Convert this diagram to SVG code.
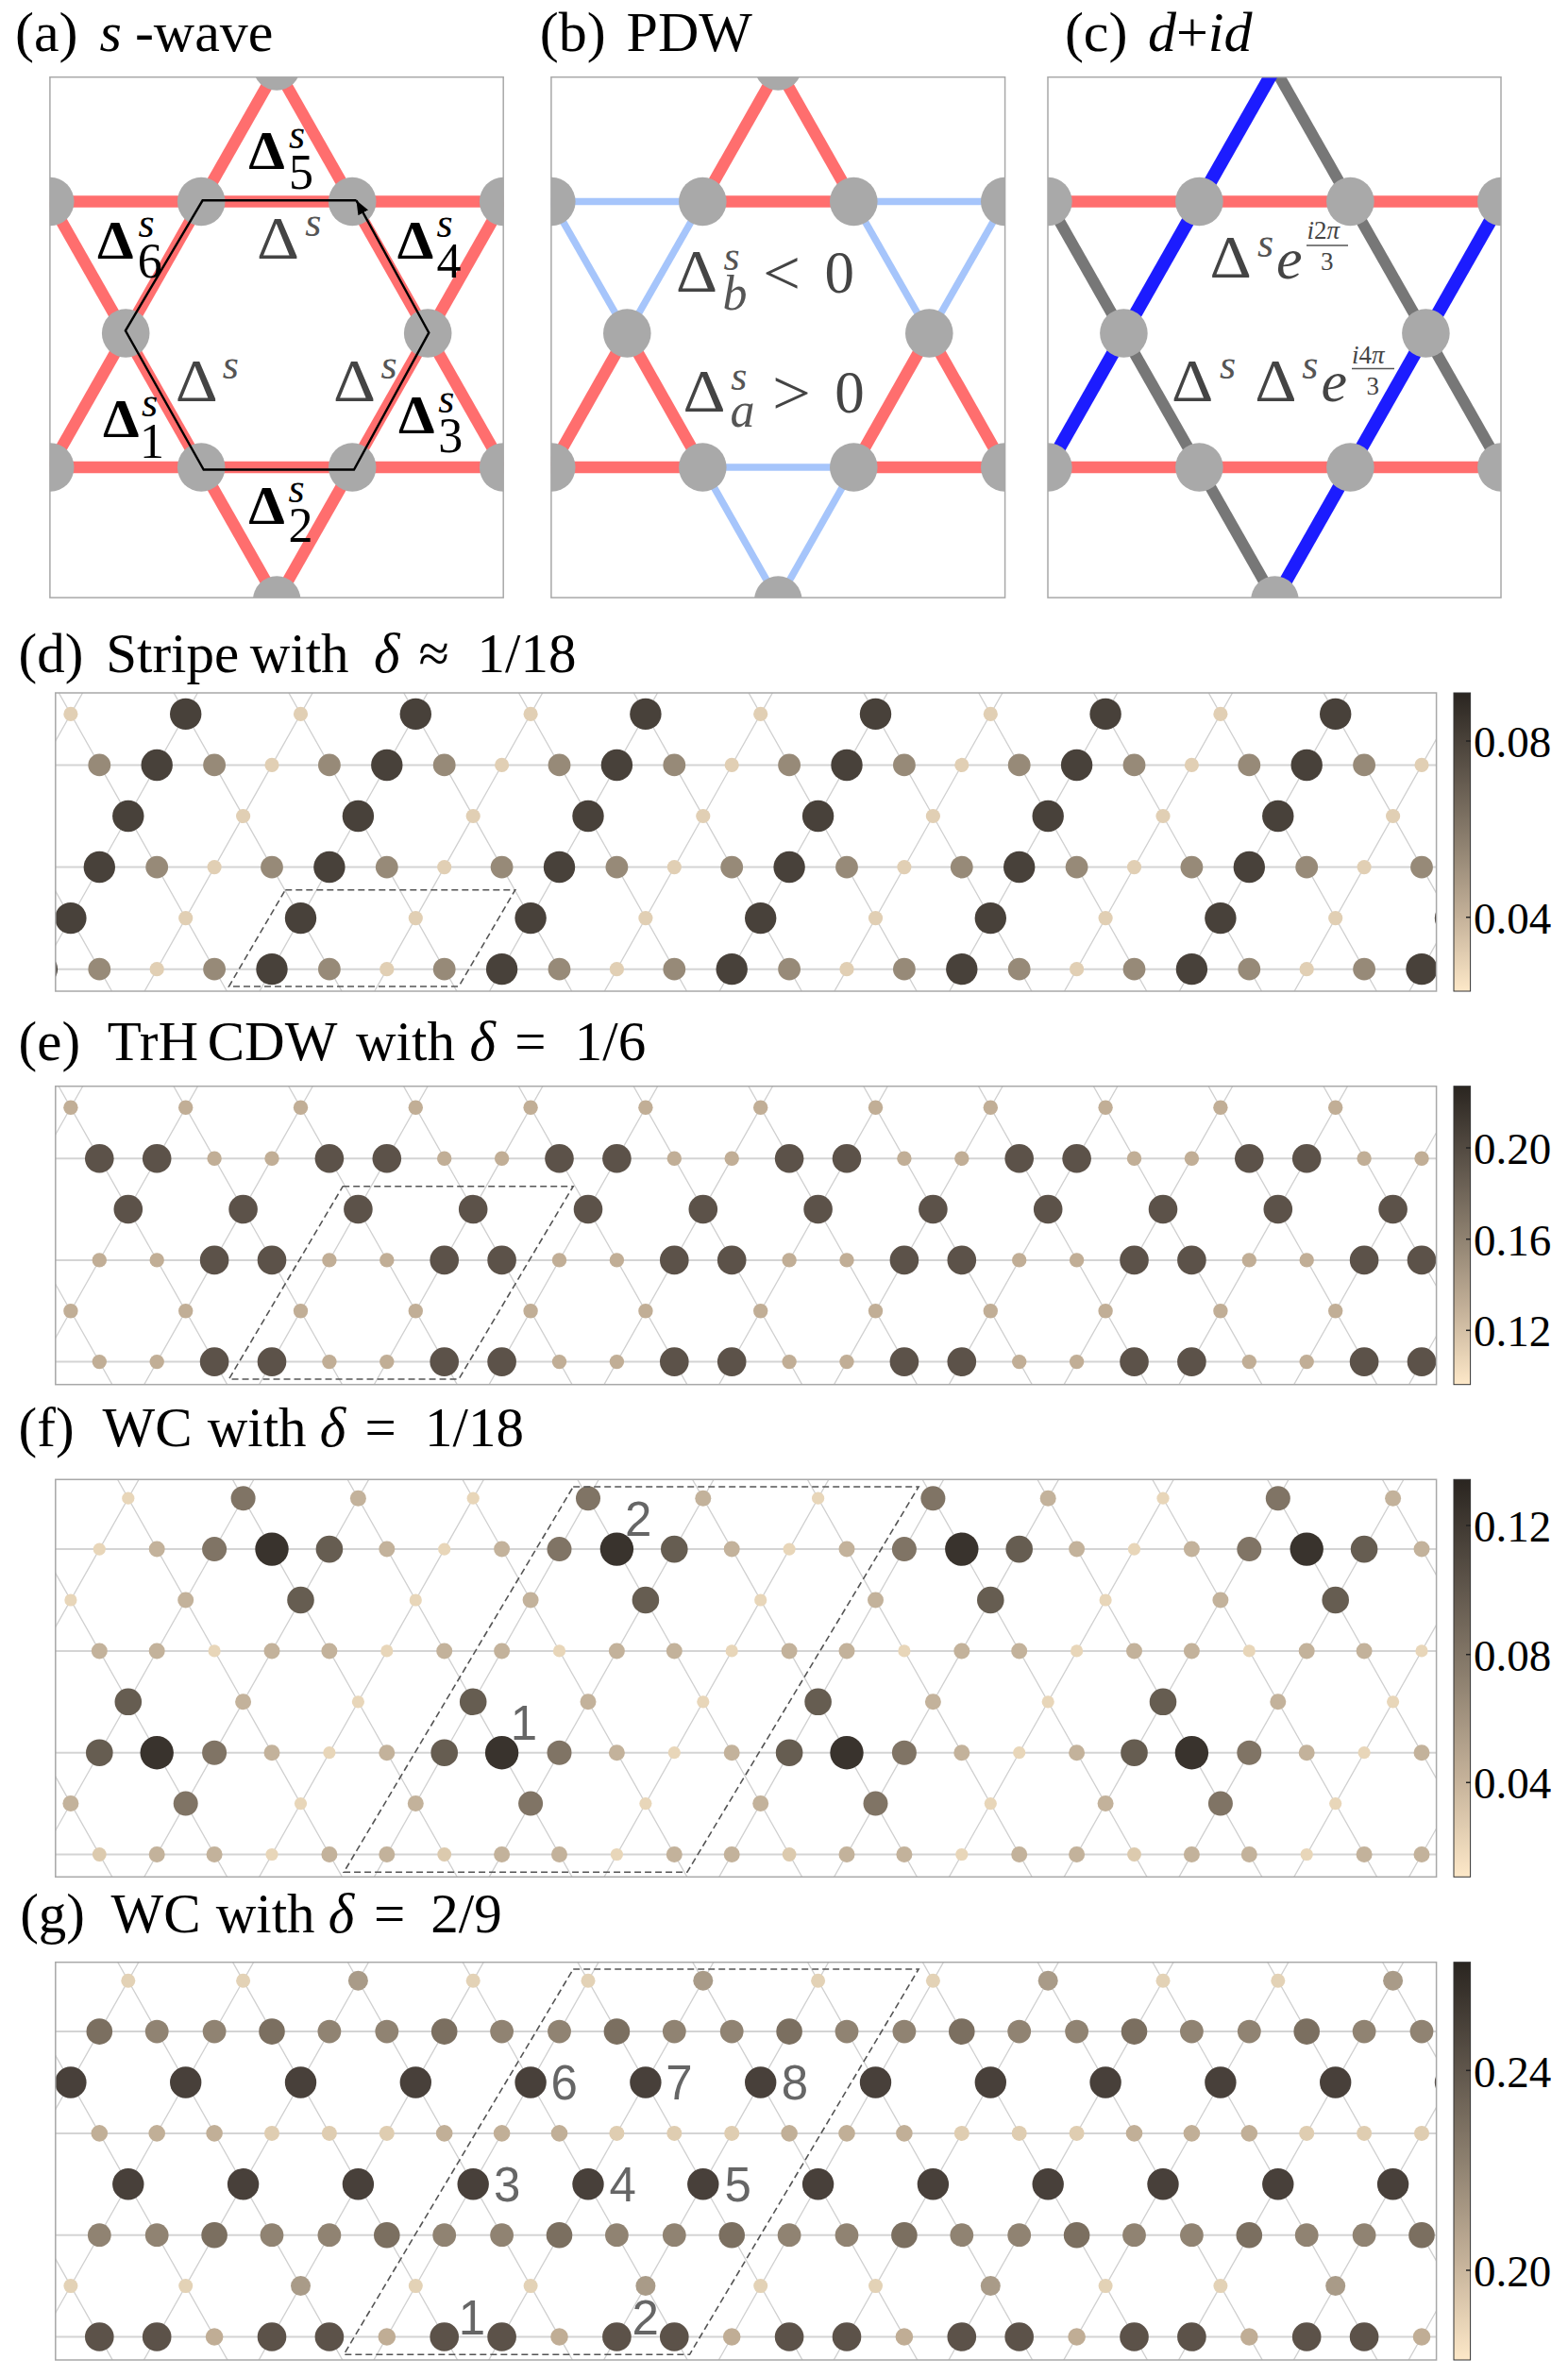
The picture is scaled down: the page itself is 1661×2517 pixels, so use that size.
<svg xmlns="http://www.w3.org/2000/svg" width="1661" height="2517" viewBox="0 0 1661 2517">
<style>
text{font-family:"Liberation Serif","Times New Roman",serif}
.ttl{font-size:59px;fill:#000}
.tt2{font-size:60px;fill:#000}
.it{font-style:italic}
.lab{font-family:"Liberation Sans",Arial,sans-serif;font-size:51px;fill:#666;text-anchor:middle}
.cb{font-size:47px;fill:#000}
.hl{stroke:#d4d4d4;stroke-width:2}
.dl{stroke:#d0d0d0;stroke-width:1.3;fill:none}
.fr{fill:none;stroke:#a8a8a8;stroke-width:1.5}
.uc{fill:none;stroke:#555;stroke-width:1.6;stroke-dasharray:7 4}
.st{fill:#a9a9a9}
.red{stroke:#ff6e6e;stroke-width:12.5}
.lb{stroke:#a6c5fb;stroke-width:7.5}
.bl{stroke:#1c1cff;stroke-width:14}
.gy{stroke:#777;stroke-width:12}
.bD{font-size:56px;font-weight:bold;fill:#000}
.sup{font-size:44px;font-style:italic;fill:#000}
.sub{font-size:52px;fill:#000}
.tgD{font-size:64px;fill:#444}
.tgs{font-size:44px;font-style:italic;fill:#555}
.tg{fill:#444}
.cbar{fill:url(#cmap);stroke:#333;stroke-width:1}
.tick{stroke:#222;stroke-width:1.5}
.d1{fill:#48413a;r:16.7px}.d2{fill:#978a78;r:11.9px}.d3{fill:#e1cfb4;r:7.6px}
.e1{fill:#5c5249;r:15.3px}.e2{fill:#c1ae96;r:7.7px}
.fV{fill:#39332d;r:17.7px}.fD{fill:#665d51;r:14.3px}.fM{fill:#807465;r:13px}.fP{fill:#c3b29b;r:8.5px}.fL{fill:#e8d6b9;r:6.6px}.fQ{fill:#dccaae;r:7.4px}
.gD{fill:#48403a;r:16.7px}.gG{fill:#7b6f60;r:13.8px}.gH{fill:#908372;r:12.4px}.gN{fill:#a99b88;r:10.5px}.gL{fill:#e3d2b6;r:7.5px}.gP{fill:#c1af97;r:8.8px}.gQ{fill:#dfcdb1;r:8px}.gK{fill:#5c5249;r:15.3px}.gJ{fill:#c0ad95;r:9.3px}
</style>
<defs>
<linearGradient id="cmap" x1="0" y1="0" x2="0" y2="1">
<stop offset="0" stop-color="#2a2520"/><stop offset="0.25" stop-color="#5b5248"/><stop offset="0.5" stop-color="#8d806f"/><stop offset="0.75" stop-color="#c4b199"/><stop offset="1" stop-color="#fde8c8"/>
</linearGradient>
<marker id="arr" viewBox="0 0 10 10" refX="10" refY="5" markerWidth="15" markerHeight="15" markerUnits="userSpaceOnUse" orient="auto"><path d="M0 1 L10 5 L0 9 Z" fill="#000"/></marker>
<clipPath id="ca"><rect x="52.9" y="81.7" width="480.3" height="551.4"/></clipPath>
<clipPath id="cbp"><rect x="583.9" y="81.7" width="480.7" height="551.4"/></clipPath>
<clipPath id="cc"><rect x="1110" y="81.7" width="480" height="551.4"/></clipPath>
<clipPath id="cd"><rect x="58.8" y="734" width="1462.8" height="316"/></clipPath>
<clipPath id="ce"><rect x="58.8" y="1150.7" width="1462.8" height="316"/></clipPath>
<clipPath id="cf"><rect x="58.8" y="1567.3" width="1462.8" height="421"/></clipPath>
<clipPath id="cg"><rect x="58.8" y="2078.7" width="1462.8" height="421.3"/></clipPath>
</defs>
<rect width="1661" height="2517" fill="#fff"/>

<!-- Panel a -->
<g id="panel-a">
<text class="tt2" x="16" y="54">(a)<tspan x="105.4" class="it">s</tspan><tspan x="142.9">-wave</tspan></text>
<g clip-path="url(#ca)">
<g id="bonds-a">
<line class="red" x1="40" y1="213.5" x2="545" y2="213.5"/>
<line class="red" x1="40" y1="495" x2="545" y2="495"/>
<line class="red" x1="293.2" y1="72.5" x2="53.2" y2="495"/>
<line class="red" x1="293.2" y1="72.5" x2="533.2" y2="495"/>
<line class="red" x1="53.2" y1="213.5" x2="293.2" y2="636"/>
<line class="red" x1="533.2" y1="213.5" x2="293.2" y2="636"/>
</g>
<g id="sites-a">
<ellipse class="st" cx="53.2" cy="213.5" rx="25.3" ry="25.8"/><ellipse class="st" cx="213.2" cy="213.5" rx="25.3" ry="25.8"/><ellipse class="st" cx="373.2" cy="213.5" rx="25.3" ry="25.8"/><ellipse class="st" cx="533.2" cy="213.5" rx="25.3" ry="25.8"/>
<ellipse class="st" cx="133.2" cy="353" rx="25.3" ry="25.8"/><ellipse class="st" cx="453.2" cy="353" rx="25.3" ry="25.8"/>
<ellipse class="st" cx="53.2" cy="495" rx="25.3" ry="25.8"/><ellipse class="st" cx="213.2" cy="495" rx="25.3" ry="25.8"/><ellipse class="st" cx="373.2" cy="495" rx="25.3" ry="25.8"/><ellipse class="st" cx="533.2" cy="495" rx="25.3" ry="25.8"/>
<ellipse class="st" cx="293.2" cy="70" rx="25.3" ry="25.8"/><ellipse class="st" cx="293.2" cy="636" rx="25.3" ry="25.8"/>
</g>
</g>
<path d="M377.5 212.3 L214.6 212.3 L132.9 350.3 L215.7 497.5 L375 497.5 L454.3 352.4 L377.5 212.3" fill="none" stroke="#000" stroke-width="2.4" marker-end="url(#arr)"/>
<rect class="fr" x="52.9" y="81.7" width="480.3" height="551.4"/>
<g id="labels-a">
<text class="bD" x="263.2" y="179.1" textLength="38.6" lengthAdjust="spacingAndGlyphs">Δ</text><text class="sup" x="306" y="156.7">s</text><text class="sub" x="306" y="199.8">5</text>
<text class="bD" x="102.9" y="273.6" textLength="38.6" lengthAdjust="spacingAndGlyphs">Δ</text><text class="sup" x="146.4" y="250.8">s</text><text class="sub" x="145.7" y="293.5">6</text>
<text class="bD" x="420.7" y="273.6" textLength="38.6" lengthAdjust="spacingAndGlyphs">Δ</text><text class="sup" x="462.5" y="250.8">s</text><text class="sub" x="462.5" y="293.5">4</text>
<text class="bD" x="108.9" y="463.1" textLength="38.6" lengthAdjust="spacingAndGlyphs">Δ</text><text class="sup" x="150" y="440.7">s</text><text class="sub" x="148" y="485.1">1</text>
<text class="bD" x="422.1" y="459.4" textLength="38.6" lengthAdjust="spacingAndGlyphs">Δ</text><text class="sup" x="464.3" y="437.4">s</text><text class="sub" x="464.3" y="478.9">3</text>
<text class="bD" x="263.2" y="554.7" textLength="38.6" lengthAdjust="spacingAndGlyphs">Δ</text><text class="sup" x="305.4" y="531.9">s</text><text class="sub" x="305.4" y="574.2">2</text>
<text class="tgD" x="272.1" y="273.6" textLength="45" lengthAdjust="spacingAndGlyphs">Δ</text><text class="tgs" x="323.2" y="250">s</text>
<text class="tgD" x="185.7" y="425" textLength="45" lengthAdjust="spacingAndGlyphs">Δ</text><text class="tgs" x="235.7" y="401.3">s</text>
<text class="tgD" x="352.9" y="425" textLength="45" lengthAdjust="spacingAndGlyphs">Δ</text><text class="tgs" x="403.6" y="401.3">s</text>
</g>
</g>

<!-- Panel b -->
<g id="panel-b">
<text class="tt2" x="571.8" y="54">(b)<tspan x="663.6">PDW</tspan></text>
<g clip-path="url(#cbp)">
<g id="bonds-b">
<line class="lb" x1="570" y1="213.5" x2="744.3" y2="213.5"/><line class="lb" x1="584.3" y1="213.5" x2="664.3" y2="353.5"/><line class="lb" x1="744.3" y1="213.5" x2="664.3" y2="353.5"/>
<line class="lb" x1="904.3" y1="213.5" x2="1080" y2="213.5"/><line class="lb" x1="904.3" y1="213.5" x2="984.3" y2="353.5"/><line class="lb" x1="1064.3" y1="213.5" x2="984.3" y2="353.5"/>
<line class="lb" x1="744.3" y1="495" x2="904.3" y2="495"/><line class="lb" x1="744.3" y1="495" x2="824.3" y2="636"/><line class="lb" x1="904.3" y1="495" x2="824.3" y2="636"/>
<line class="red" x1="824.3" y1="72.5" x2="744.3" y2="213.5"/><line class="red" x1="824.3" y1="72.5" x2="904.3" y2="213.5"/><line class="red" x1="744.3" y1="213.5" x2="904.3" y2="213.5"/>
<line class="red" x1="664.3" y1="353.5" x2="584.3" y2="495"/><line class="red" x1="664.3" y1="353.5" x2="744.3" y2="495"/><line class="red" x1="570" y1="495" x2="744.3" y2="495"/>
<line class="red" x1="984.3" y1="353.5" x2="904.3" y2="495"/><line class="red" x1="984.3" y1="353.5" x2="1064.3" y2="495"/><line class="red" x1="904.3" y1="495" x2="1080" y2="495"/>
</g>
<g id="sites-b">
<ellipse class="st" cx="584.3" cy="213.5" rx="25.3" ry="25.8"/><ellipse class="st" cx="744.3" cy="213.5" rx="25.3" ry="25.8"/><ellipse class="st" cx="904.3" cy="213.5" rx="25.3" ry="25.8"/><ellipse class="st" cx="1064.3" cy="213.5" rx="25.3" ry="25.8"/>
<ellipse class="st" cx="664.3" cy="353" rx="25.3" ry="25.8"/><ellipse class="st" cx="984.3" cy="353" rx="25.3" ry="25.8"/>
<ellipse class="st" cx="584.3" cy="495" rx="25.3" ry="25.8"/><ellipse class="st" cx="744.3" cy="495" rx="25.3" ry="25.8"/><ellipse class="st" cx="904.3" cy="495" rx="25.3" ry="25.8"/><ellipse class="st" cx="1064.3" cy="495" rx="25.3" ry="25.8"/>
<ellipse class="st" cx="824.3" cy="70" rx="25.3" ry="25.8"/><ellipse class="st" cx="824.3" cy="636" rx="25.3" ry="25.8"/>
</g>
</g>
<rect class="fr" x="583.9" y="81.7" width="480.7" height="551.4"/>
<g id="labels-b">
<text class="tgD" x="716.1" y="308.9" textLength="44" lengthAdjust="spacingAndGlyphs">Δ</text><text class="tgs" x="766.4" y="286.1">s</text><text class="tgs" x="765.4" y="327.5" style="font-size:52px">b</text>
<text class="tg" x="808" y="312" style="font-size:68px" textLength="40" lengthAdjust="spacingAndGlyphs">&lt;</text><text class="tg" x="873.5" y="310.1" style="font-size:63px">0</text>
<text class="tgD" x="723.6" y="436.2" textLength="45" lengthAdjust="spacingAndGlyphs">Δ</text><text class="tgs" x="774.3" y="412.5">s</text><text class="tgs" x="773.6" y="451.9" style="font-size:52px">a</text>
<text class="tg" x="818" y="438.5" style="font-size:68px" textLength="41" lengthAdjust="spacingAndGlyphs">&gt;</text><text class="tg" x="884.2" y="437.4" style="font-size:63px">0</text>
</g>
</g>

<!-- Panel c -->
<g id="panel-c">
<text class="tt2" x="1127.9" y="54">(c)<tspan x="1216" class="it">d</tspan><tspan>+</tspan><tspan class="it">id</tspan></text>
<g clip-path="url(#cc)">
<g id="bonds-c">
<line class="red" x1="1100" y1="213.5" x2="1600" y2="213.5"/>
<line class="red" x1="1100" y1="495" x2="1600" y2="495"/>
<line class="gy" x1="1350.4" y1="72.5" x2="1600" y2="512"/>
<line class="gy" x1="1110.4" y1="213.5" x2="1350.4" y2="636"/>
<line class="bl" x1="1350.4" y1="72.5" x2="1110.4" y2="495"/>
<line class="bl" x1="1590.4" y1="213.5" x2="1350.4" y2="636"/>
</g>
<g id="sites-c">
<ellipse class="st" cx="1110.4" cy="213.5" rx="25.3" ry="25.8"/><ellipse class="st" cx="1270.4" cy="213.5" rx="25.3" ry="25.8"/><ellipse class="st" cx="1430.4" cy="213.5" rx="25.3" ry="25.8"/><ellipse class="st" cx="1590.4" cy="213.5" rx="25.3" ry="25.8"/>
<ellipse class="st" cx="1190.4" cy="353" rx="25.3" ry="25.8"/><ellipse class="st" cx="1510.4" cy="353" rx="25.3" ry="25.8"/>
<ellipse class="st" cx="1110.4" cy="495" rx="25.3" ry="25.8"/><ellipse class="st" cx="1270.4" cy="495" rx="25.3" ry="25.8"/><ellipse class="st" cx="1430.4" cy="495" rx="25.3" ry="25.8"/><ellipse class="st" cx="1590.4" cy="495" rx="25.3" ry="25.8"/>
<ellipse class="st" cx="1350.4" cy="636" rx="25.3" ry="25.8"/>
</g>
</g>
<rect class="fr" x="1110" y="81.7" width="480" height="551.4"/>
<g id="labels-c">
<text class="tgD" x="1281.4" y="294.4" textLength="44.3" lengthAdjust="spacingAndGlyphs">Δ</text><text class="tgs" x="1332.1" y="271.6">s</text>
<text class="tg it" x="1352" y="295.2" style="font-size:62px">e</text>
<text class="tg" x="1384.6" y="252.9" style="font-size:27px"><tspan class="it">i</tspan>2<tspan class="it">π</tspan></text>
<line x1="1384" y1="260" x2="1428" y2="260" stroke="#555" stroke-width="1.5"/>
<text class="tg" x="1399" y="286.1" style="font-size:27px">3</text>
<text class="tgD" x="1241.1" y="425" textLength="44.3" lengthAdjust="spacingAndGlyphs">Δ</text><text class="tgs" x="1292.1" y="401.3">s</text>
<text class="tgD" x="1329.3" y="425" textLength="44.3" lengthAdjust="spacingAndGlyphs">Δ</text><text class="tgs" x="1379.3" y="401.3">s</text>
<text class="tg it" x="1399.5" y="425" style="font-size:62px">e</text>
<text class="tg" x="1432.1" y="384.7" style="font-size:27px"><tspan class="it">i</tspan>4<tspan class="it">π</tspan></text>
<line x1="1432" y1="390.5" x2="1477" y2="390.5" stroke="#555" stroke-width="1.5"/>
<text class="tg" x="1447.5" y="417.9" style="font-size:27px">3</text>
</g>
</g>

<!-- Panel d -->
<g id="panel-d">
<text class="ttl" x="19.6" y="711.7">(d)<tspan x="112.2">Stripe</tspan><tspan x="264.7">with</tspan><tspan x="396" class="it">δ</tspan><tspan x="443.6">≈</tspan><tspan x="505.6">1/18</tspan></text>
<g clip-path="url(#cd)">
<g id="lattice-d">
<path class="dl" d="M-60.6 732l180.2 320m-58.4-320l180.2 320m-58.4-320l180.2 320m-58.4-320l180.2 320m-58.4-320l180.2 320m-58.4-320l180.2 320m-58.4-320l180.2 320m-58.4-320l180.2 320m-58.4-320l180.2 320m-58.4-320l180.2 320m-58.4-320l180.2 320m-58.4-320l180.2 320m-58.4-320l180.2 320"/>
<path class="dl" d="M88.64 732l-180.2 320m302-320l-180.2 320m302-320l-180.2 320m302-320l-180.2 320m302-320l-180.2 320m302-320l-180.2 320m302-320l-180.2 320m302-320l-180.2 320m302-320l-180.2 320m302-320l-180.2 320m302-320l-180.2 320m302-320l-180.2 320m302-320l-180.2 320m302-320l-180.2 320"/>
<line class="hl" x1="58.8" y1="810.45" x2="1521.6" y2="810.45"/><line class="hl" x1="58.8" y1="918.55" x2="1521.6" y2="918.55"/><line class="hl" x1="58.8" y1="1026.65" x2="1521.6" y2="1026.65"/>
</g>
<g id="sites-d">
<g transform="translate(0,756.4)"><circle class="d3" cx="74.9"/><circle class="d1" cx="196.7"/><circle class="d3" cx="318.5"/><circle class="d1" cx="440.3"/><circle class="d3" cx="562.1"/><circle class="d1" cx="683.9"/><circle class="d3" cx="805.7"/><circle class="d1" cx="927.5"/><circle class="d3" cx="1049.3"/><circle class="d1" cx="1171.1"/><circle class="d3" cx="1292.9"/><circle class="d1" cx="1414.7"/></g>
<g transform="translate(0,810.45)"><circle class="d2" cx="105.3"/><circle class="d1" cx="166.2"/><circle class="d2" cx="227.1"/><circle class="d3" cx="288"/><circle class="d2" cx="348.9"/><circle class="d1" cx="409.8"/><circle class="d2" cx="470.7"/><circle class="d3" cx="531.6"/><circle class="d2" cx="592.5"/><circle class="d1" cx="653.4"/><circle class="d2" cx="714.3"/><circle class="d3" cx="775.2"/><circle class="d2" cx="836.1"/><circle class="d1" cx="897"/><circle class="d2" cx="957.9"/><circle class="d3" cx="1018.8"/><circle class="d2" cx="1079.7"/><circle class="d1" cx="1140.6"/><circle class="d2" cx="1201.5"/><circle class="d3" cx="1262.4"/><circle class="d2" cx="1323.3"/><circle class="d1" cx="1384.2"/><circle class="d2" cx="1445.1"/><circle class="d3" cx="1506"/></g>
<g transform="translate(0,864.5)"><circle class="d1" cx="135.8"/><circle class="d3" cx="257.6"/><circle class="d1" cx="379.4"/><circle class="d3" cx="501.2"/><circle class="d1" cx="623"/><circle class="d3" cx="744.8"/><circle class="d1" cx="866.6"/><circle class="d3" cx="988.4"/><circle class="d1" cx="1110.2"/><circle class="d3" cx="1232"/><circle class="d1" cx="1353.8"/><circle class="d3" cx="1475.6"/></g>
<g transform="translate(0,918.55)"><circle class="d1" cx="105.3"/><circle class="d2" cx="166.2"/><circle class="d3" cx="227.1"/><circle class="d2" cx="288"/><circle class="d1" cx="348.9"/><circle class="d2" cx="409.8"/><circle class="d3" cx="470.7"/><circle class="d2" cx="531.6"/><circle class="d1" cx="592.5"/><circle class="d2" cx="653.4"/><circle class="d3" cx="714.3"/><circle class="d2" cx="775.2"/><circle class="d1" cx="836.1"/><circle class="d2" cx="897"/><circle class="d3" cx="957.9"/><circle class="d2" cx="1018.8"/><circle class="d1" cx="1079.7"/><circle class="d2" cx="1140.6"/><circle class="d3" cx="1201.5"/><circle class="d2" cx="1262.4"/><circle class="d1" cx="1323.3"/><circle class="d2" cx="1384.2"/><circle class="d3" cx="1445.1"/><circle class="d2" cx="1506"/></g>
<g transform="translate(0,972.6)"><circle class="d1" cx="74.9"/><circle class="d3" cx="196.7"/><circle class="d1" cx="318.5"/><circle class="d3" cx="440.3"/><circle class="d1" cx="562.1"/><circle class="d3" cx="683.9"/><circle class="d1" cx="805.7"/><circle class="d3" cx="927.5"/><circle class="d1" cx="1049.3"/><circle class="d3" cx="1171.1"/><circle class="d1" cx="1292.9"/><circle class="d3" cx="1414.7"/><circle class="d1" cx="1536.5"/></g>
<g transform="translate(0,1026.65)"><circle class="d1" cx="44.4"/><circle class="d2" cx="105.3"/><circle class="d3" cx="166.2"/><circle class="d2" cx="227.1"/><circle class="d1" cx="288"/><circle class="d2" cx="348.9"/><circle class="d3" cx="409.8"/><circle class="d2" cx="470.7"/><circle class="d1" cx="531.6"/><circle class="d2" cx="592.5"/><circle class="d3" cx="653.4"/><circle class="d2" cx="714.3"/><circle class="d1" cx="775.2"/><circle class="d2" cx="836.1"/><circle class="d3" cx="897"/><circle class="d2" cx="957.9"/><circle class="d1" cx="1018.8"/><circle class="d2" cx="1079.7"/><circle class="d3" cx="1140.6"/><circle class="d2" cx="1201.5"/><circle class="d1" cx="1262.4"/><circle class="d2" cx="1323.3"/><circle class="d3" cx="1384.2"/><circle class="d2" cx="1445.1"/><circle class="d1" cx="1506"/></g>
</g>
</g>
<path class="uc" d="M302.3 942.7 L545.8 942.7 L486 1045 L242.5 1045 Z"/>
<rect class="fr" x="58.8" y="734" width="1462.8" height="316"/>
<g id="colorbar-d">
<rect class="cbar" x="1540" y="734" width="17.6" height="316"/>
<line class="tick" x1="1553" y1="785" x2="1558" y2="785"/><line class="tick" x1="1553" y1="971.7" x2="1558" y2="971.7"/>
<text class="cb" x="1561" y="802">0.08</text><text class="cb" x="1561" y="988.7">0.04</text>
</g>
</g>

<!-- Panel e -->
<g id="panel-e">
<text class="ttl" x="19.6" y="1122.7">(e)<tspan x="113.8">TrH</tspan><tspan x="219.7">CDW</tspan><tspan x="377">with</tspan><tspan x="497.6" class="it">δ</tspan><tspan x="545.3">=</tspan><tspan x="608.8">1/6</tspan></text>
<g clip-path="url(#ce)">
<g id="lattice-e">
<path class="dl" d="M-60.8 1148.7l180.8 320m-59-320l180.8 320m-59-320l180.8 320m-59-320l180.8 320m-59-320l180.8 320m-59-320l180.8 320m-59-320l180.8 320m-59-320l180.8 320m-59-320l180.8 320m-59-320l180.8 320m-59-320l180.8 320m-59-320l180.8 320m-59-320l180.8 320"/>
<path class="dl" d="M88.8 1148.7l-180.8 320m302.6-320l-180.8 320m302.6-320l-180.8 320m302.6-320l-180.8 320m302.6-320l-180.8 320m302.6-320l-180.8 320m302.6-320l-180.8 320m302.6-320l-180.8 320m302.6-320l-180.8 320m302.6-320l-180.8 320m302.6-320l-180.8 320m302.6-320l-180.8 320m302.6-320l-180.8 320m302.6-320l-180.8 320"/>
<line class="hl" x1="58.8" y1="1227.2" x2="1521.6" y2="1227.2"/><line class="hl" x1="58.8" y1="1334.9" x2="1521.6" y2="1334.9"/><line class="hl" x1="58.8" y1="1442.6" x2="1521.6" y2="1442.6"/>
</g>
<g id="sites-e">
<g transform="translate(0,1173.3)"><circle class="e2" cx="74.9"/><circle class="e2" cx="196.7"/><circle class="e2" cx="318.5"/><circle class="e2" cx="440.3"/><circle class="e2" cx="562.1"/><circle class="e2" cx="683.9"/><circle class="e2" cx="805.7"/><circle class="e2" cx="927.5"/><circle class="e2" cx="1049.3"/><circle class="e2" cx="1171.1"/><circle class="e2" cx="1292.9"/><circle class="e2" cx="1414.7"/></g>
<g transform="translate(0,1227.2)"><circle class="e1" cx="105.3"/><circle class="e1" cx="166.2"/><circle class="e2" cx="227.1"/><circle class="e2" cx="288"/><circle class="e1" cx="348.9"/><circle class="e1" cx="409.8"/><circle class="e2" cx="470.7"/><circle class="e2" cx="531.6"/><circle class="e1" cx="592.5"/><circle class="e1" cx="653.4"/><circle class="e2" cx="714.3"/><circle class="e2" cx="775.2"/><circle class="e1" cx="836.1"/><circle class="e1" cx="897"/><circle class="e2" cx="957.9"/><circle class="e2" cx="1018.8"/><circle class="e1" cx="1079.7"/><circle class="e1" cx="1140.6"/><circle class="e2" cx="1201.5"/><circle class="e2" cx="1262.4"/><circle class="e1" cx="1323.3"/><circle class="e1" cx="1384.2"/><circle class="e2" cx="1445.1"/><circle class="e2" cx="1506"/></g>
<g transform="translate(0,1281)"><circle class="e1" cx="135.8"/><circle class="e1" cx="257.6"/><circle class="e1" cx="379.4"/><circle class="e1" cx="501.2"/><circle class="e1" cx="623"/><circle class="e1" cx="744.8"/><circle class="e1" cx="866.6"/><circle class="e1" cx="988.4"/><circle class="e1" cx="1110.2"/><circle class="e1" cx="1232"/><circle class="e1" cx="1353.8"/><circle class="e1" cx="1475.6"/></g>
<g transform="translate(0,1334.9)"><circle class="e2" cx="105.3"/><circle class="e2" cx="166.2"/><circle class="e1" cx="227.1"/><circle class="e1" cx="288"/><circle class="e2" cx="348.9"/><circle class="e2" cx="409.8"/><circle class="e1" cx="470.7"/><circle class="e1" cx="531.6"/><circle class="e2" cx="592.5"/><circle class="e2" cx="653.4"/><circle class="e1" cx="714.3"/><circle class="e1" cx="775.2"/><circle class="e2" cx="836.1"/><circle class="e2" cx="897"/><circle class="e1" cx="957.9"/><circle class="e1" cx="1018.8"/><circle class="e2" cx="1079.7"/><circle class="e2" cx="1140.6"/><circle class="e1" cx="1201.5"/><circle class="e1" cx="1262.4"/><circle class="e2" cx="1323.3"/><circle class="e2" cx="1384.2"/><circle class="e1" cx="1445.1"/><circle class="e1" cx="1506"/></g>
<g transform="translate(0,1388.7)"><circle class="e2" cx="74.9"/><circle class="e2" cx="196.7"/><circle class="e2" cx="318.5"/><circle class="e2" cx="440.3"/><circle class="e2" cx="562.1"/><circle class="e2" cx="683.9"/><circle class="e2" cx="805.7"/><circle class="e2" cx="927.5"/><circle class="e2" cx="1049.3"/><circle class="e2" cx="1171.1"/><circle class="e2" cx="1292.9"/><circle class="e2" cx="1414.7"/></g>
<g transform="translate(0,1442.6)"><circle class="e2" cx="105.3"/><circle class="e2" cx="166.2"/><circle class="e1" cx="227.1"/><circle class="e1" cx="288"/><circle class="e2" cx="348.9"/><circle class="e2" cx="409.8"/><circle class="e1" cx="470.7"/><circle class="e1" cx="531.6"/><circle class="e2" cx="592.5"/><circle class="e2" cx="653.4"/><circle class="e1" cx="714.3"/><circle class="e1" cx="775.2"/><circle class="e2" cx="836.1"/><circle class="e2" cx="897"/><circle class="e1" cx="957.9"/><circle class="e1" cx="1018.8"/><circle class="e2" cx="1079.7"/><circle class="e2" cx="1140.6"/><circle class="e1" cx="1201.5"/><circle class="e1" cx="1262.4"/><circle class="e2" cx="1323.3"/><circle class="e2" cx="1384.2"/><circle class="e1" cx="1445.1"/><circle class="e1" cx="1506"/></g>
</g>
</g>
<path class="uc" d="M363.2 1256.7 L607.2 1256.7 L486 1461 L242.5 1461 Z"/>
<rect class="fr" x="58.8" y="1150.7" width="1462.8" height="316"/>
<g id="colorbar-e">
<rect class="cbar" x="1540" y="1150.7" width="17.6" height="316"/>
<line class="tick" x1="1553" y1="1216" x2="1558" y2="1216"/><line class="tick" x1="1553" y1="1312.7" x2="1558" y2="1312.7"/><line class="tick" x1="1553" y1="1409.3" x2="1558" y2="1409.3"/>
<text class="cb" x="1561" y="1233">0.20</text><text class="cb" x="1561" y="1329.7">0.16</text><text class="cb" x="1561" y="1426.3">0.12</text>
</g>
</g>

<!-- Panel f -->
<g id="panel-f">
<text class="ttl" x="19.6" y="1531.7">(f)<tspan x="108.5">WC</tspan><tspan x="219.7">with</tspan><tspan x="338.8" class="it">δ</tspan><tspan x="386.4">=</tspan><tspan x="450">1/18</tspan></text>
<g clip-path="url(#cf)">
<g id="lattice-f">
<path class="dl" d="M-120.17 1565.3l240.1 425m-118.3-425l240.1 425m-118.3-425l240.1 425m-118.3-425l240.1 425m-118.3-425l240.1 425m-118.3-425l240.1 425m-118.3-425l240.1 425m-118.3-425l240.1 425m-118.3-425l240.1 425m-118.3-425l240.1 425m-118.3-425l240.1 425m-118.3-425l240.1 425m-118.3-425l240.1 425m-118.3-425l240.1 425"/>
<path class="dl" d="M148.17 1565.3l-240.1 425m361.9-425l-240.1 425m361.9-425l-240.1 425m361.9-425l-240.1 425m361.9-425l-240.1 425m361.9-425l-240.1 425m361.9-425l-240.1 425m361.9-425l-240.1 425m361.9-425l-240.1 425m361.9-425l-240.1 425m361.9-425l-240.1 425m361.9-425l-240.1 425m361.9-425l-240.1 425m361.9-425l-240.1 425"/>
<line class="hl" x1="58.8" y1="1641.1" x2="1521.6" y2="1641.1"/><line class="hl" x1="58.8" y1="1748.9" x2="1521.6" y2="1748.9"/><line class="hl" x1="58.8" y1="1856.7" x2="1521.6" y2="1856.7"/><line class="hl" x1="58.8" y1="1964.5" x2="1521.6" y2="1964.5"/>
</g>
<g id="sites-f">
<g transform="translate(0,1587.2)"><circle class="fL" cx="135.8"/><circle class="fM" cx="257.6"/><circle class="fP" cx="379.4"/><circle class="fL" cx="501.2"/><circle class="fM" cx="623"/><circle class="fP" cx="744.8"/><circle class="fL" cx="866.6"/><circle class="fM" cx="988.4"/><circle class="fP" cx="1110.2"/><circle class="fL" cx="1232"/><circle class="fM" cx="1353.8"/><circle class="fP" cx="1475.6"/></g>
<g transform="translate(0,1641.1)"><circle class="fL" cx="105.3"/><circle class="fP" cx="166.2"/><circle class="fM" cx="227.1"/><circle class="fV" cx="288"/><circle class="fD" cx="348.9"/><circle class="fP" cx="409.8"/><circle class="fL" cx="470.7"/><circle class="fP" cx="531.6"/><circle class="fM" cx="592.5"/><circle class="fV" cx="653.4"/><circle class="fD" cx="714.3"/><circle class="fP" cx="775.2"/><circle class="fL" cx="836.1"/><circle class="fP" cx="897"/><circle class="fM" cx="957.9"/><circle class="fV" cx="1018.8"/><circle class="fD" cx="1079.7"/><circle class="fP" cx="1140.6"/><circle class="fL" cx="1201.5"/><circle class="fP" cx="1262.4"/><circle class="fM" cx="1323.3"/><circle class="fV" cx="1384.2"/><circle class="fD" cx="1445.1"/><circle class="fP" cx="1506"/></g>
<g transform="translate(0,1695)"><circle class="fL" cx="74.9"/><circle class="fP" cx="196.7"/><circle class="fD" cx="318.5"/><circle class="fL" cx="440.3"/><circle class="fP" cx="562.1"/><circle class="fD" cx="683.9"/><circle class="fL" cx="805.7"/><circle class="fP" cx="927.5"/><circle class="fD" cx="1049.3"/><circle class="fL" cx="1171.1"/><circle class="fP" cx="1292.9"/><circle class="fD" cx="1414.7"/></g>
<g transform="translate(0,1748.9)"><circle class="fP" cx="105.3"/><circle class="fP" cx="166.2"/><circle class="fL" cx="227.1"/><circle class="fP" cx="288"/><circle class="fP" cx="348.9"/><circle class="fL" cx="409.8"/><circle class="fP" cx="470.7"/><circle class="fP" cx="531.6"/><circle class="fL" cx="592.5"/><circle class="fP" cx="653.4"/><circle class="fP" cx="714.3"/><circle class="fL" cx="775.2"/><circle class="fP" cx="836.1"/><circle class="fP" cx="897"/><circle class="fL" cx="957.9"/><circle class="fP" cx="1018.8"/><circle class="fP" cx="1079.7"/><circle class="fL" cx="1140.6"/><circle class="fP" cx="1201.5"/><circle class="fP" cx="1262.4"/><circle class="fL" cx="1323.3"/><circle class="fP" cx="1384.2"/><circle class="fP" cx="1445.1"/><circle class="fL" cx="1506"/></g>
<g transform="translate(0,1802.8)"><circle class="fD" cx="135.8"/><circle class="fP" cx="257.6"/><circle class="fL" cx="379.4"/><circle class="fD" cx="501.2"/><circle class="fP" cx="623"/><circle class="fL" cx="744.8"/><circle class="fD" cx="866.6"/><circle class="fP" cx="988.4"/><circle class="fL" cx="1110.2"/><circle class="fD" cx="1232"/><circle class="fP" cx="1353.8"/><circle class="fL" cx="1475.6"/></g>
<g transform="translate(0,1856.7)"><circle class="fD" cx="105.3"/><circle class="fV" cx="166.2"/><circle class="fM" cx="227.1"/><circle class="fP" cx="288"/><circle class="fL" cx="348.9"/><circle class="fP" cx="409.8"/><circle class="fD" cx="470.7"/><circle class="fV" cx="531.6"/><circle class="fM" cx="592.5"/><circle class="fP" cx="653.4"/><circle class="fL" cx="714.3"/><circle class="fP" cx="775.2"/><circle class="fD" cx="836.1"/><circle class="fV" cx="897"/><circle class="fM" cx="957.9"/><circle class="fP" cx="1018.8"/><circle class="fL" cx="1079.7"/><circle class="fP" cx="1140.6"/><circle class="fD" cx="1201.5"/><circle class="fV" cx="1262.4"/><circle class="fM" cx="1323.3"/><circle class="fP" cx="1384.2"/><circle class="fL" cx="1445.1"/><circle class="fP" cx="1506"/></g>
<g transform="translate(0,1910.6)"><circle class="fP" cx="74.9"/><circle class="fM" cx="196.7"/><circle class="fL" cx="318.5"/><circle class="fP" cx="440.3"/><circle class="fM" cx="562.1"/><circle class="fL" cx="683.9"/><circle class="fP" cx="805.7"/><circle class="fM" cx="927.5"/><circle class="fL" cx="1049.3"/><circle class="fP" cx="1171.1"/><circle class="fM" cx="1292.9"/><circle class="fL" cx="1414.7"/></g>
<g transform="translate(0,1964.5)"><circle class="fQ" cx="105.3"/><circle class="fP" cx="166.2"/><circle class="fP" cx="227.1"/><circle class="fL" cx="288"/><circle class="fP" cx="348.9"/><circle class="fP" cx="409.8"/><circle class="fQ" cx="470.7"/><circle class="fP" cx="531.6"/><circle class="fP" cx="592.5"/><circle class="fL" cx="653.4"/><circle class="fP" cx="714.3"/><circle class="fP" cx="775.2"/><circle class="fQ" cx="836.1"/><circle class="fP" cx="897"/><circle class="fP" cx="957.9"/><circle class="fL" cx="1018.8"/><circle class="fP" cx="1079.7"/><circle class="fP" cx="1140.6"/><circle class="fQ" cx="1201.5"/><circle class="fP" cx="1262.4"/><circle class="fP" cx="1323.3"/><circle class="fL" cx="1384.2"/><circle class="fP" cx="1445.1"/><circle class="fP" cx="1506"/></g>
</g>
</g>
<path class="uc" d="M607.2 1575 L973.1 1575 L727.9 1983.3 L364.2 1983.3 Z"/>
<text class="lab" x="555" y="1843">1</text>
<text class="lab" x="676.3" y="1626.7">2</text>
<rect class="fr" x="58.8" y="1567.3" width="1462.8" height="421"/>
<g id="colorbar-f">
<rect class="cbar" x="1540" y="1567.3" width="17.6" height="421"/>
<line class="tick" x1="1553" y1="1616" x2="1558" y2="1616"/><line class="tick" x1="1553" y1="1752.7" x2="1558" y2="1752.7"/><line class="tick" x1="1553" y1="1888.3" x2="1558" y2="1888.3"/>
<text class="cb" x="1561" y="1633">0.12</text><text class="cb" x="1561" y="1769.7">0.08</text><text class="cb" x="1561" y="1905.3">0.04</text>
</g>
</g>

<!-- Panel g -->
<g id="panel-g">
<text class="ttl" x="21.2" y="2046.7">(g)<tspan x="117.5">WC</tspan><tspan x="228.7">with</tspan><tspan x="347.8" class="it">δ</tspan><tspan x="396">=</tspan><tspan x="456.3">2/9</tspan></text>
<g clip-path="url(#cg)">
<g id="lattice-g">
<path class="dl" d="M-119.94 2076.7l240.25 425.3m-118.45-425.3l240.25 425.3m-118.45-425.3l240.25 425.3m-118.45-425.3l240.25 425.3m-118.45-425.3l240.25 425.3m-118.45-425.3l240.25 425.3m-118.45-425.3l240.25 425.3m-118.45-425.3l240.25 425.3m-118.45-425.3l240.25 425.3m-118.45-425.3l240.25 425.3m-118.45-425.3l240.25 425.3m-118.45-425.3l240.25 425.3m-118.45-425.3l240.25 425.3m-118.45-425.3l240.25 425.3"/>
<path class="dl" d="M147.94 2076.7l-240.25 425.3m362.05-425.3l-240.25 425.3m362.05-425.3l-240.25 425.3m362.05-425.3l-240.25 425.3m362.05-425.3l-240.25 425.3m362.05-425.3l-240.25 425.3m362.05-425.3l-240.25 425.3m362.05-425.3l-240.25 425.3m362.05-425.3l-240.25 425.3m362.05-425.3l-240.25 425.3m362.05-425.3l-240.25 425.3m362.05-425.3l-240.25 425.3m362.05-425.3l-240.25 425.3m362.05-425.3l-240.25 425.3"/>
<line class="hl" x1="58.8" y1="2152.1" x2="1521.6" y2="2152.1"/><line class="hl" x1="58.8" y1="2259.9" x2="1521.6" y2="2259.9"/><line class="hl" x1="58.8" y1="2367.7" x2="1521.6" y2="2367.7"/><line class="hl" x1="58.8" y1="2475.5" x2="1521.6" y2="2475.5"/>
</g>
<g id="sites-g">
<g transform="translate(0,2098.2)"><circle class="gL" cx="135.8"/><circle class="gL" cx="257.6"/><circle class="gN" cx="379.4"/><circle class="gL" cx="501.2"/><circle class="gL" cx="623"/><circle class="gN" cx="744.8"/><circle class="gL" cx="866.6"/><circle class="gL" cx="988.4"/><circle class="gN" cx="1110.2"/><circle class="gL" cx="1232"/><circle class="gL" cx="1353.8"/><circle class="gN" cx="1475.6"/></g>
<g transform="translate(0,2152.1)"><circle class="gG" cx="105.3"/><circle class="gH" cx="166.2"/><circle class="gH" cx="227.1"/><circle class="gG" cx="288"/><circle class="gH" cx="348.9"/><circle class="gH" cx="409.8"/><circle class="gG" cx="470.7"/><circle class="gH" cx="531.6"/><circle class="gH" cx="592.5"/><circle class="gG" cx="653.4"/><circle class="gH" cx="714.3"/><circle class="gH" cx="775.2"/><circle class="gG" cx="836.1"/><circle class="gH" cx="897"/><circle class="gH" cx="957.9"/><circle class="gG" cx="1018.8"/><circle class="gH" cx="1079.7"/><circle class="gH" cx="1140.6"/><circle class="gG" cx="1201.5"/><circle class="gH" cx="1262.4"/><circle class="gH" cx="1323.3"/><circle class="gG" cx="1384.2"/><circle class="gH" cx="1445.1"/><circle class="gH" cx="1506"/></g>
<g transform="translate(0,2206)"><circle class="gD" cx="74.9"/><circle class="gD" cx="196.7"/><circle class="gD" cx="318.5"/><circle class="gD" cx="440.3"/><circle class="gD" cx="562.1"/><circle class="gD" cx="683.9"/><circle class="gD" cx="805.7"/><circle class="gD" cx="927.5"/><circle class="gD" cx="1049.3"/><circle class="gD" cx="1171.1"/><circle class="gD" cx="1292.9"/><circle class="gD" cx="1414.7"/><circle class="gD" cx="1536.5"/></g>
<g transform="translate(0,2259.9)"><circle class="gP" cx="105.3"/><circle class="gP" cx="166.2"/><circle class="gP" cx="227.1"/><circle class="gQ" cx="288"/><circle class="gQ" cx="348.9"/><circle class="gQ" cx="409.8"/><circle class="gP" cx="470.7"/><circle class="gP" cx="531.6"/><circle class="gP" cx="592.5"/><circle class="gQ" cx="653.4"/><circle class="gQ" cx="714.3"/><circle class="gQ" cx="775.2"/><circle class="gP" cx="836.1"/><circle class="gP" cx="897"/><circle class="gP" cx="957.9"/><circle class="gQ" cx="1018.8"/><circle class="gQ" cx="1079.7"/><circle class="gQ" cx="1140.6"/><circle class="gP" cx="1201.5"/><circle class="gP" cx="1262.4"/><circle class="gP" cx="1323.3"/><circle class="gQ" cx="1384.2"/><circle class="gQ" cx="1445.1"/><circle class="gQ" cx="1506"/></g>
<g transform="translate(0,2313.8)"><circle class="gD" cx="135.8"/><circle class="gD" cx="257.6"/><circle class="gD" cx="379.4"/><circle class="gD" cx="501.2"/><circle class="gD" cx="623"/><circle class="gD" cx="744.8"/><circle class="gD" cx="866.6"/><circle class="gD" cx="988.4"/><circle class="gD" cx="1110.2"/><circle class="gD" cx="1232"/><circle class="gD" cx="1353.8"/><circle class="gD" cx="1475.6"/></g>
<g transform="translate(0,2367.7)"><circle class="gH" cx="105.3"/><circle class="gH" cx="166.2"/><circle class="gG" cx="227.1"/><circle class="gH" cx="288"/><circle class="gH" cx="348.9"/><circle class="gG" cx="409.8"/><circle class="gH" cx="470.7"/><circle class="gH" cx="531.6"/><circle class="gG" cx="592.5"/><circle class="gH" cx="653.4"/><circle class="gH" cx="714.3"/><circle class="gG" cx="775.2"/><circle class="gH" cx="836.1"/><circle class="gH" cx="897"/><circle class="gG" cx="957.9"/><circle class="gH" cx="1018.8"/><circle class="gH" cx="1079.7"/><circle class="gG" cx="1140.6"/><circle class="gH" cx="1201.5"/><circle class="gH" cx="1262.4"/><circle class="gG" cx="1323.3"/><circle class="gH" cx="1384.2"/><circle class="gH" cx="1445.1"/><circle class="gG" cx="1506"/></g>
<g transform="translate(0,2421.6)"><circle class="gL" cx="74.9"/><circle class="gL" cx="196.7"/><circle class="gN" cx="318.5"/><circle class="gL" cx="440.3"/><circle class="gL" cx="562.1"/><circle class="gN" cx="683.9"/><circle class="gL" cx="805.7"/><circle class="gL" cx="927.5"/><circle class="gN" cx="1049.3"/><circle class="gL" cx="1171.1"/><circle class="gL" cx="1292.9"/><circle class="gN" cx="1414.7"/></g>
<g transform="translate(0,2475.5)"><circle class="gK" cx="105.3"/><circle class="gK" cx="166.2"/><circle class="gJ" cx="227.1"/><circle class="gK" cx="288"/><circle class="gK" cx="348.9"/><circle class="gJ" cx="409.8"/><circle class="gK" cx="470.7"/><circle class="gK" cx="531.6"/><circle class="gJ" cx="592.5"/><circle class="gK" cx="653.4"/><circle class="gK" cx="714.3"/><circle class="gJ" cx="775.2"/><circle class="gK" cx="836.1"/><circle class="gK" cx="897"/><circle class="gJ" cx="957.9"/><circle class="gK" cx="1018.8"/><circle class="gK" cx="1079.7"/><circle class="gJ" cx="1140.6"/><circle class="gK" cx="1201.5"/><circle class="gK" cx="1262.4"/><circle class="gJ" cx="1323.3"/><circle class="gK" cx="1384.2"/><circle class="gK" cx="1445.1"/><circle class="gJ" cx="1506"/></g>
</g>
</g>
<path class="uc" d="M607.2 2086 L973.1 2086 L730.5 2494.3 L364.2 2494.3 Z"/>
<text class="lab" x="597.7" y="2224">6</text><text class="lab" x="719.5" y="2224">7</text><text class="lab" x="842" y="2224">8</text>
<text class="lab" x="537.3" y="2331.7">3</text><text class="lab" x="659.6" y="2331.7">4</text><text class="lab" x="781.7" y="2331.7">5</text>
<text class="lab" x="500" y="2473.3">1</text><text class="lab" x="683.7" y="2473.3">2</text>
<rect class="fr" x="58.8" y="2078.7" width="1462.8" height="421.3"/>
<g id="colorbar-g">
<rect class="cbar" x="1540" y="2078.7" width="17.6" height="421.3"/>
<line class="tick" x1="1553" y1="2193.3" x2="1558" y2="2193.3"/><line class="tick" x1="1553" y1="2405" x2="1558" y2="2405"/>
<text class="cb" x="1561" y="2210.5">0.24</text><text class="cb" x="1561" y="2422">0.20</text>
</g>
</g>
</svg>
